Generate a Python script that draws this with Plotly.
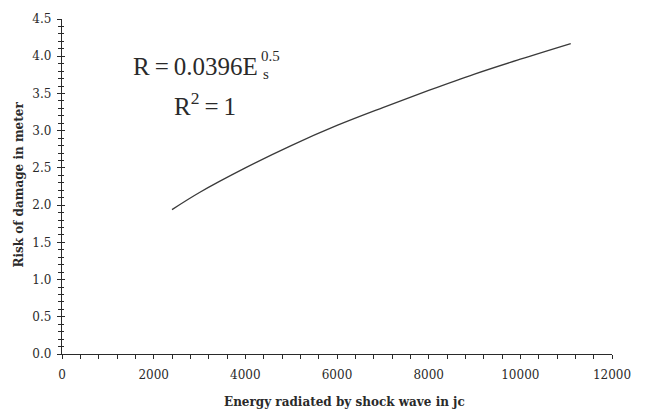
import plotly.graph_objects as go

# Values
energy = [2400, 3000, 4000, 5000, 6000, 7000, 8000, 9000, 10000, 11100]
risk = [1.94, 2.17, 2.50, 2.80, 3.07, 3.31, 3.54, 3.76, 3.96, 4.17]

x_ticks = [0, 2000, 4000, 6000, 8000, 10000, 12000]
y_ticks = [0.0, 0.5, 1.0, 1.5, 2.0, 2.5, 3.0, 3.5, 4.0, 4.5]
y_tick_text = ["0.0", "0.5", "1.0", "1.5", "2.0", "2.5", "3.0", "3.5", "4.0", "4.5"]

x_title = "Energy radiated by shock wave in jc"
y_title = "Risk of damage in meter"

SERIF = "Liberation Serif, Times New Roman, serif"
WIDE = "DejaVu Serif, serif"
INK = "#2a2a2a"

fig = go.Figure()
fig.add_trace(go.Scatter(
    x=energy, y=risk, mode="lines", line=dict(color="#3a3a3a", width=1.3, shape="spline"),
    showlegend=False, hoverinfo="skip"))
# invisible trace so the overlay axis (inside ticks) is drawn
fig.add_trace(go.Scatter(x=[energy[0]], y=[risk[0]], yaxis="y2", mode="markers",
                         marker=dict(opacity=0), showlegend=False, hoverinfo="skip"))

fig.update_layout(
    width=648, height=412,
    margin=dict(l=62, r=36, t=14, b=58),
    paper_bgcolor="white", plot_bgcolor="white",
    font=dict(family=SERIF, color=INK),
    xaxis=dict(
        range=[0, 12000], tickmode="array", tickvals=x_ticks,
        ticktext=[str(v) for v in x_ticks],
        showline=True, linecolor=INK, linewidth=1.3, showgrid=False, zeroline=False,
        ticks="outside", ticklen=4, tickwidth=1, tickcolor=INK,
        minor=dict(dtick=400, tick0=0, ticks="outside", ticklen=4, tickwidth=1, tickcolor=INK, showgrid=False),
        tickfont=dict(family=WIDE, size=12, color=INK),
        ticklabelstandoff=5,
    ),
    yaxis=dict(
        range=[0, 4.5], tickmode="array", tickvals=y_ticks, ticktext=y_tick_text,
        showline=True, linecolor=INK, linewidth=1.3, showgrid=False, zeroline=False,
        ticks="outside", ticklen=4, tickwidth=1, tickcolor=INK,
        minor=dict(dtick=0.1, tick0=0, ticks="outside", ticklen=3, tickwidth=1, tickcolor=INK, showgrid=False),
        tickfont=dict(family=WIDE, size=12, color=INK),
        ticklabelstandoff=3,
    ),
    yaxis2=dict(
        range=[0, 4.5], overlaying="y", side="left", anchor="x",
        showline=False, showgrid=False, zeroline=False, showticklabels=False,
        tickmode="array", tickvals=y_ticks,
        ticks="inside", ticklen=3, tickwidth=1, tickcolor=INK,
        minor=dict(dtick=0.1, tick0=0, ticks="inside", ticklen=2, tickwidth=1, tickcolor=INK, showgrid=False),
    ),
)

annotations = [
    dict(text=x_title, xref="paper", yref="paper", x=(222 - 62) / 550, y=-(403 - 354) / 340,
         xanchor="left", yanchor="middle", showarrow=False,
         font=dict(family=WIDE, size=12, color=INK, weight="bold")),
    dict(text=y_title, xref="paper", yref="paper", x=-(62 - 19) / 550, y=(354 - 182) / 340,
         xanchor="center", yanchor="middle", textangle=-90, showarrow=False,
         font=dict(family=WIDE, size=12, color=INK, weight="bold")),
    dict(text="R\u2009=\u20090.0396E", xref="paper", yref="paper", x=(131 - 62) / 550, y=(354 - 62) / 340,
         xanchor="left", yanchor="middle", showarrow=False,
         font=dict(family=SERIF, size=25, color=INK)),
    dict(text="0.5", xref="paper", yref="paper", x=(259 - 62) / 550, y=(354 - 52) / 340,
         xanchor="left", yanchor="middle", showarrow=False,
         font=dict(family=SERIF, size=15, color=INK)),
    dict(text="s", xref="paper", yref="paper", x=(261 - 62) / 550, y=(354 - 70) / 340,
         xanchor="left", yanchor="middle", showarrow=False,
         font=dict(family=SERIF, size=15, color=INK)),
    dict(text="R<sup>2</sup>\u2009=\u20091", xref="paper", yref="paper", x=(172 - 62) / 550, y=(354 - 100) / 340,
         xanchor="left", yanchor="middle", showarrow=False,
         font=dict(family=SERIF, size=25, color=INK)),
]
fig.update_layout(annotations=annotations)

fig.write_html("out.html")
